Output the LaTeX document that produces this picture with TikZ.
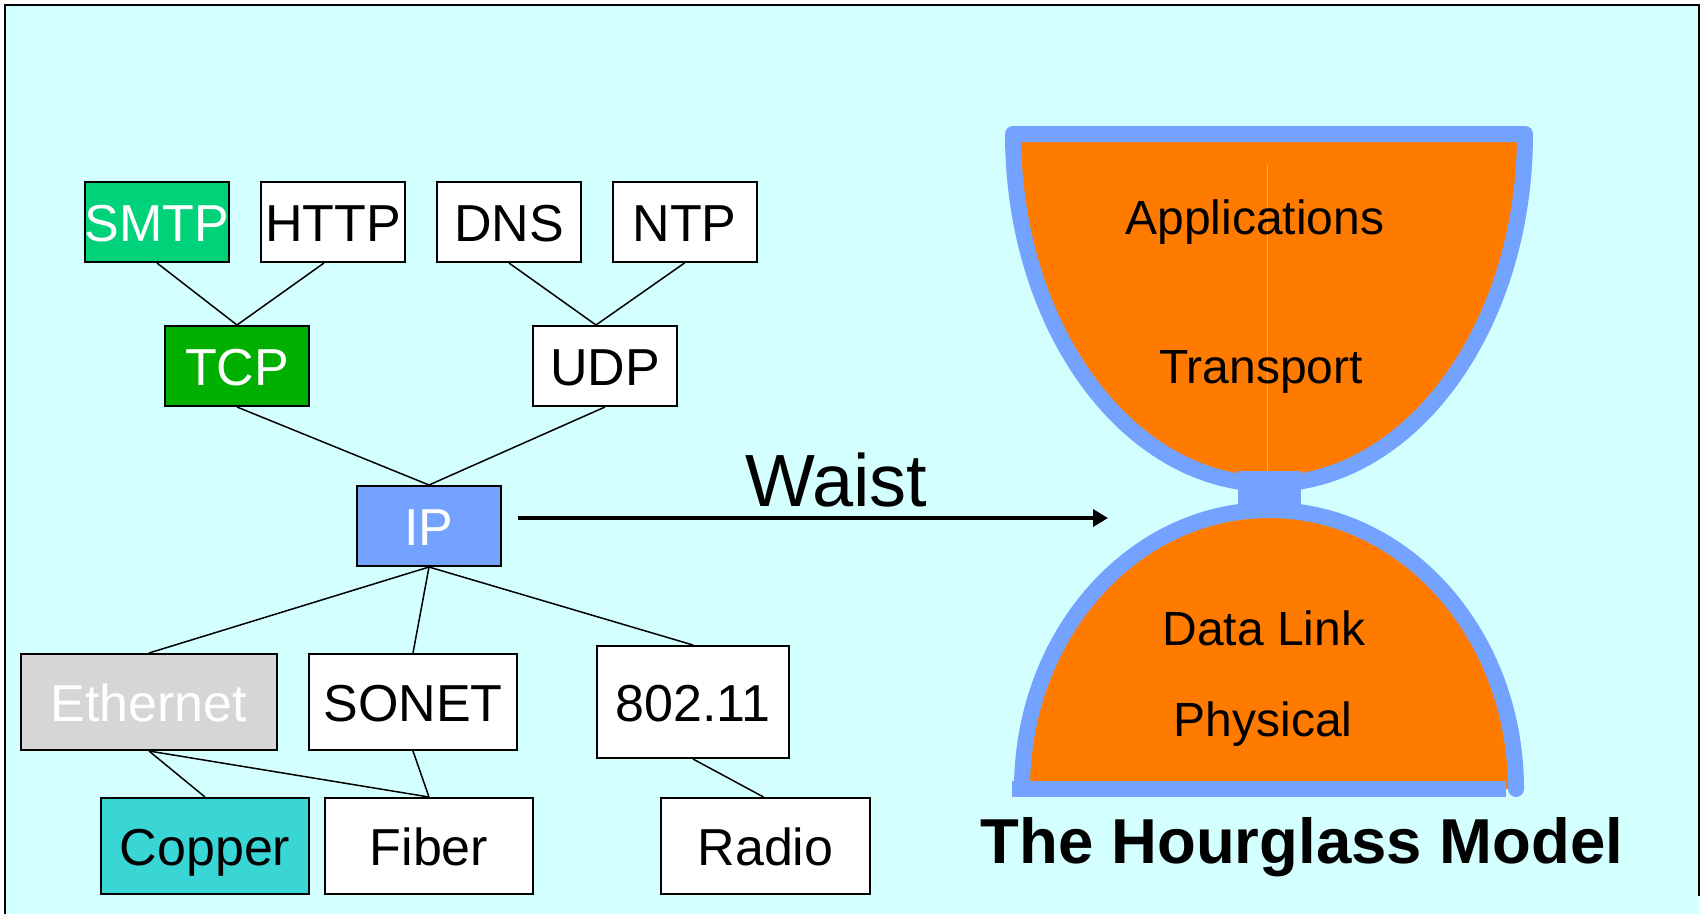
\documentclass[tikz,border=0pt]{standalone}
\usepackage{fontspec}
\setmainfont{Liberation Sans}
\usetikzlibrary{arrows.meta}
\definecolor{bgcyan}{HTML}{D4FFFF}
\definecolor{smtpgreen}{HTML}{00D27A}
\definecolor{tcpgreen}{HTML}{00B000}
\definecolor{ipblue}{HTML}{74A3FF}
\definecolor{ethgray}{HTML}{D6D6D6}
\definecolor{coppercyan}{HTML}{3AD6D6}
\definecolor{hgorange}{HTML}{FF7B00}
\begin{document}
\begin{tikzpicture}[x=1pt,y=-1pt,
  box/.style={draw=black, line width=2pt, inner sep=0pt, fill=white,
    text height=38pt, text depth=0pt, font=\fontsize{52}{60}\selectfont},
  conn/.style={line width=1.5pt},
  hgtext/.style={anchor=base, inner sep=0pt, font=\fontsize{48}{56}\selectfont},
  hgline/.style={draw=ipblue, line width=16pt}]
\useasboundingbox (0,0) rectangle (1701,914);
\fill[bgcyan] (5,5) rectangle (1699,914);
\draw[line width=2pt] (5,914) -- (5,5) -- (1699,5) -- (1699,896);

% protocol boxes
\node[box, fill=smtpgreen, text=white, minimum width=144pt, minimum height=80pt] (smtp) at (157,222) {SMTP};
\node[box, minimum width=144pt, minimum height=80pt] (http) at (333,222) {HTTP};
\node[box, minimum width=144pt, minimum height=80pt] (dns) at (509,222) {DNS};
\node[box, minimum width=144pt, minimum height=80pt] (ntp) at (684.5,222) {NTP};
\node[box, fill=tcpgreen, text=white, minimum width=144pt, minimum height=80pt] (tcp) at (237,366) {TCP};
\node[box, minimum width=144pt, minimum height=80pt] (udp) at (605,366) {UDP};
\node[box, fill=ipblue, text=white, minimum width=144pt, minimum height=80pt] (ip) at (429,526) {IP};
\node[box, fill=ethgray, text=white, minimum width=256pt, minimum height=96pt] (eth) at (149,702) {Ethernet};
\node[box, minimum width=208pt, minimum height=96pt] (sonet) at (413,702) {SONET};
\node[box, minimum width=192pt, minimum height=112pt] (wifi) at (693,702) {802.11};
\node[box, fill=coppercyan, minimum width=208pt, minimum height=96pt] (copper) at (205,846) {Copper};
\node[box, minimum width=208pt, minimum height=96pt] (fiber) at (429,846) {Fiber};
\node[box, minimum width=209pt, minimum height=96pt] (radio) at (765.5,846) {Radio};

% connectors
\draw[conn] (smtp.south) -- (tcp.north);
\draw[conn] ([xshift=-9pt]http.south) -- (tcp.north);
\draw[conn] (dns.south) -- ([xshift=-9pt]udp.north);
\draw[conn] (ntp.south) -- ([xshift=-9pt]udp.north);
\draw[conn] (tcp.south) -- (ip.north);
\draw[conn] (udp.south) -- (ip.north);
\draw[conn] (ip.south) -- (eth.north);
\draw[conn] (ip.south) -- (sonet.north);
\draw[conn] (ip.south) -- (wifi.north);
\draw[conn] (eth.south) -- (copper.north);
\draw[conn] (eth.south) -- (fiber.north);
\draw[conn] (sonet.south) -- (fiber.north);
\draw[conn] (wifi.south) -- ([xshift=-2pt]radio.north);

% waist arrow
\coordinate (wstart) at (518,518);
\coordinate (wend) at (1108,518);
\draw[line width=3.5pt, -{Triangle[length=15pt,width=17pt]}] (wstart) -- (wend);
\node[anchor=base west, inner sep=0pt, font=\fontsize{74}{80}\selectfont] (waist) at (745,506) {Waist};

% hourglass top bowl
\fill[hgorange] (1013,134) -- (1525,134) arc[start angle=0, end angle=180, x radius=256, y radius=350] -- cycle;
\draw[line width=0.8pt, hgorange!65!white] (1267,165) -- (1267,472);
\draw[hgline, line join=round] (1013,134) -- (1525,134) arc[start angle=0, end angle=180, x radius=256, y radius=350] -- cycle;
% neck
\fill[ipblue] (1238,471) rectangle (1301,505);
% bottom dome
\fill[hgorange] (1022,789) arc[start angle=180, end angle=360, x radius=247, y radius=279] -- cycle;
\draw[hgline] (1012,789) -- (1506,789);
\draw[hgline, line cap=round] (1022,789) arc[start angle=180, end angle=360, x radius=247, y radius=279];

% layer labels
\node[hgtext] (apps) at (1255,234) {Applications};
\node[hgtext] (transport) at (1261,383) {Transport};
\node[hgtext] (datalink) at (1264,645) {Data Link};
\node[hgtext] (physical) at (1263,736) {Physical};
\node[anchor=base, inner sep=0pt, font=\bfseries\fontsize{63.5}{70}\selectfont] (title) at (1302,863) {The Hourglass Model};
\end{tikzpicture}
\end{document}
